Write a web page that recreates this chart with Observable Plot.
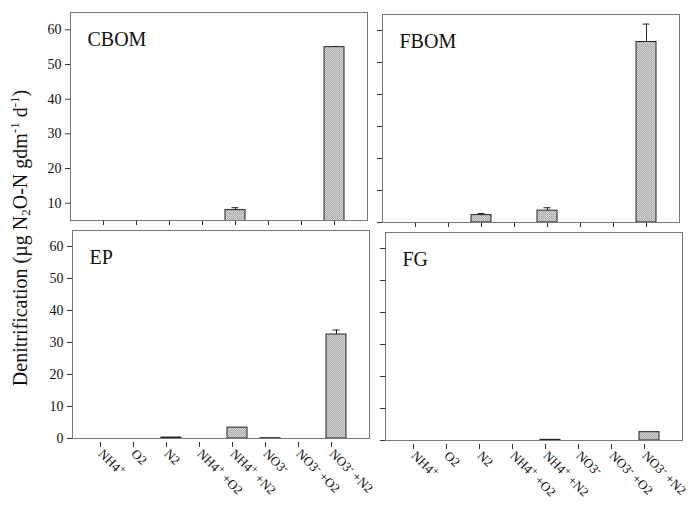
<!DOCTYPE html>
<html>
<head>
<meta charset="utf-8">
<script src="https://cdn.jsdelivr.net/npm/d3@7"></script>
<script src="https://cdn.jsdelivr.net/npm/@observablehq/plot@0.6"></script>
<style>
  body { margin: 0; background: #fff; }
  #fig { position: relative; width: 688px; height: 508px; overflow: hidden; background: #fff;
         font-family: "Liberation Serif", "Times New Roman", serif; }
  #fig svg { position: absolute; }
  #fig svg text { font-family: "Liberation Serif", "Times New Roman", serif; }
</style>
</head>
<body>
<div id="fig"></div>
<script>
// Incubation treatments (x axis); "^" marks the following character as a superscript
const treatments = ["NH4^+", "O2", "N2", "NH4^+ +O2", "NH4^+ +N2", "NO3^-", "NO3^- +O2", "NO3^- +N2"];

// Denitrification rates (µg N2O-N gdm-1 d-1) and standard errors per compartment
const cbom    = [0, 0, 0,   0, 8.0, 0,   0, 55.0];
const cbomErr = [0, 0, 0,   0, 0.7, 0,   0, 0.2];
const fbom    = [0, 0, 2.3, 0, 3.7, 0,   0, 56.4];
const fbomErr = [0, 0, 0.5, 0, 0.9, 0,   0, 5.6];
const ep      = [0, 0, 0.3, 0, 3.4, 0.1, 0, 32.5];
const epErr   = [0, 0, 0,   0, 0,   0,   0, 1.4];
const fg      = [0, 0, 0,   0, 0.2, 0,   0, 2.6];
const fgErr   = [0, 0, 0,   0, 0.1, 0,   0, 0];

const yTicks = [0, 10, 20, 30, 40, 50, 60];
const yTicksCbom = [10, 20, 30, 40, 50, 60];

const SVGNS = "http://www.w3.org/2000/svg";
const fig = document.getElementById("fig");
const serif = '"Liberation Serif", "Times New Roman", serif';

// Stippled grey fill shared by all bars
fig.insertAdjacentHTML("beforeend", `
<svg width="0" height="0" style="position:absolute">
  <defs>
    <pattern id="stipple" width="2" height="2" patternUnits="userSpaceOnUse">
      <rect width="2" height="2" fill="#d6d6d6"/>
      <rect x="0" y="0" width="1" height="1" fill="#a2a2a2"/>
      <rect x="1" y="1" width="1" height="1" fill="#b0b0b0"/>
    </pattern>
  </defs>
</svg>`);

// Rewrite a tick label so that "^x" becomes a raised character
function superscriptLabel(textEl, s) {
  textEl.textContent = "";
  const parts = s.split(/\^(.)/);
  let raised = false;
  parts.forEach((p, i) => {
    if (!p) return;
    const ts = document.createElementNS(SVGNS, "tspan");
    ts.textContent = p;
    if (i % 2 === 1) {
      ts.setAttribute("dy", "-4");
      ts.setAttribute("font-size", "11");
      raised = true;
    } else if (raised) {
      ts.setAttribute("dy", "4");
      raised = false;
    }
    textEl.appendChild(ts);
  });
}

function panel({label, values, errors, yDomain, ticks, showY, showX, left, top}) {
  const W = 297, H = 208;
  const mL = 45, mR = 12, mT = 6, mB = showX ? 80 : 10;
  const rows = treatments.map((t, i) => ({t, v: values[i], e: errors[i]}));
  const bars = rows.filter(d => d.v > 0);
  const errs = rows.filter(d => d.e > 0);

  const chart = Plot.plot({
    width: mL + W + mR,
    height: mT + H + mB,
    marginLeft: mL, marginRight: mR, marginTop: mT, marginBottom: mB,
    style: {background: "transparent", overflow: "visible", fontFamily: serif, fontSize: "13px", color: "#111"},
    x: {domain: treatments, paddingInner: 0.4, paddingOuter: 0.7, label: null},
    y: {domain: yDomain, label: null},
    marks: [
      Plot.axisY({ticks, tickSize: 5, tickPadding: 4, fontSize: 14, fontFamily: serif,
                  tickFormat: showY ? d => d : () => "", stroke: "#333"}),
      Plot.axisX({tickSize: 5, tickPadding: 4, fontSize: 13, fontFamily: serif, tickRotate: showX ? 45 : 0,
                  dx: showX ? -5 : 0, dy: showX ? 4 : 0,
                  tickFormat: showX ? d => d : () => "", stroke: "#333"}),
      Plot.ruleX(errs, {x: "t", y1: "v", y2: d => d.v + d.e, stroke: "#222", strokeWidth: 1}),
      Plot.tickY(errs, {x: "t", y: d => d.v + d.e, insetLeft: 6.5, insetRight: 6.5, stroke: "#222", strokeWidth: 1}),
      Plot.barY(bars, {x: "t", y: "v", fill: "url(#stipple)", stroke: "#222", strokeWidth: 1, clip: true}),
      Plot.frame({stroke: "#777", strokeWidth: 1}),
      Plot.text([label], {frameAnchor: "top-left", text: d => d, dx: 17, dy: 19, lineAnchor: "top",
                          textAnchor: "start", fontSize: 20, fill: "#111"})
    ]
  });

  chart.style.left = `${left - mL}px`;
  chart.style.top = `${top - mT}px`;

  if (showX) {
    chart.querySelectorAll('g[aria-label="x-axis tick label"] text').forEach(el => {
      superscriptLabel(el, el.textContent);
    });
  }
  fig.appendChild(chart);
}

panel({label: "CBOM", values: cbom, errors: cbomErr, yDomain: [5, 65], ticks: yTicksCbom,
       showY: true, showX: false, left: 70, top: 12});
panel({label: "FBOM", values: fbom, errors: fbomErr, yDomain: [0, 65], ticks: yTicks,
       showY: false, showX: false, left: 382, top: 14});
panel({label: "EP", values: ep, errors: epErr, yDomain: [0, 65], ticks: yTicks,
       showY: true, showX: true, left: 72, top: 230});
panel({label: "FG", values: fg, errors: fgErr, yDomain: [0, 65], ticks: yTicks,
       showY: false, showX: true, left: 385, top: 232});

// Shared y-axis title
fig.insertAdjacentHTML("beforeend", `
<svg width="688" height="508" style="position:absolute;left:0;top:0;pointer-events:none">
  <text transform="translate(27,238) rotate(-90)" text-anchor="middle"
        font-family='${serif}' font-size="20" fill="#111">Denitrification (µg N<tspan font-size="13" dy="3">2</tspan><tspan dy="-3">O-N gdm</tspan><tspan font-size="13" dy="-8">-1</tspan><tspan dy="8"> d</tspan><tspan font-size="13" dy="-8">-1</tspan><tspan dy="8">)</tspan></text>
</svg>`);
</script>
</body>
</html>
